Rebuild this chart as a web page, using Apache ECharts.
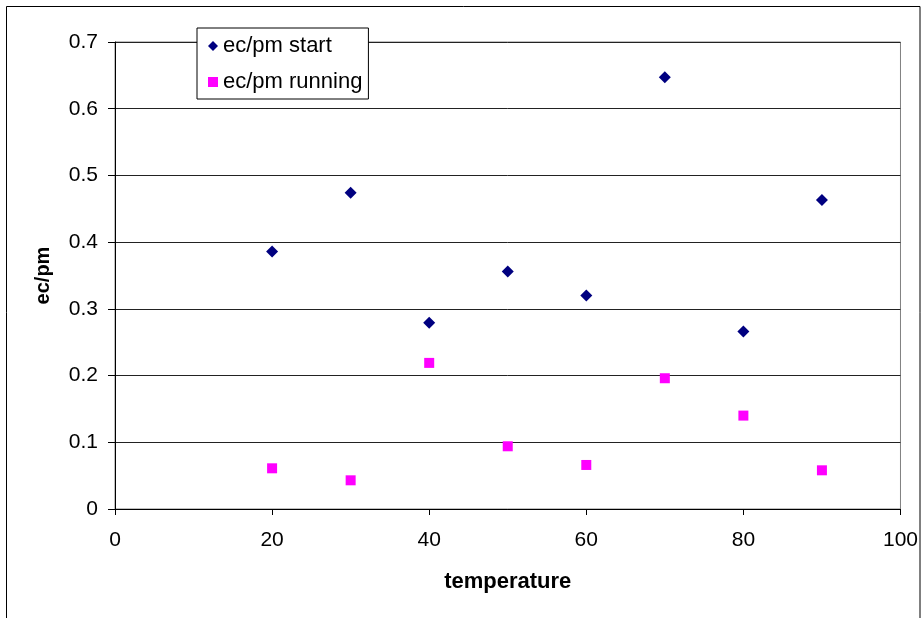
<!DOCTYPE html>
<html>
<head>
<meta charset="utf-8">
<script src="https://cdn.jsdelivr.net/npm/echarts@6/dist/echarts.min.js"></script>
<style>
  html, body { margin: 0; padding: 0; background: #fff; }
  #main { width: 921px; height: 618px; }
</style>
</head>
<body>
<div id="main"></div>
<script>
// temperature values on the x axis
const temperature = [20, 30, 40, 50, 60, 70, 80, 90];
// ec/pm at start and while running
const ecpmStart = [0.386, 0.474, 0.279, 0.356, 0.320, 0.647, 0.266, 0.463];
const ecpmRunning = [0.061, 0.043, 0.219, 0.094, 0.066, 0.196, 0.140, 0.058];

const font = 'Liberation Sans, Arial, sans-serif';

const chart = echarts.init(document.getElementById('main'), null, { renderer: 'canvas' });

const option = {
  backgroundColor: '#fff',
  animation: false,
  graphic: [{
    // outer chart frame
    type: 'rect',
    shape: { x: 6.5, y: 6.5, width: 913.5, height: 640 },
    style: { fill: 'none', stroke: '#000', lineWidth: 1 },
    z: -1
  }],
  grid: {
    left: 115, top: 42, right: 19, bottom: 109,
    show: true,
    borderColor: '#808080',
    borderWidth: 1,
    backgroundColor: '#fff'
  },
  legend: {
    orient: 'vertical',
    left: 197, top: 28,
    padding: [7, 6, 6, 11],
    itemGap: 14,
    itemWidth: 10, itemHeight: 10,
    itemTextGap: 6,
    backgroundColor: '#fff',
    borderColor: '#000',
    borderWidth: 1,
    textStyle: { fontFamily: font, fontSize: 22, color: '#000', lineHeight: 22 },
    data: [
      { name: 'ec/pm start', icon: 'diamond' },
      { name: 'ec/pm running', icon: 'rect' }
    ]
  },
  xAxis: {
    type: 'value',
    min: 0, max: 100, interval: 20,
    name: 'temperature',
    nameLocation: 'middle',
    nameGap: 62,
    nameTextStyle: { fontFamily: font, fontSize: 22, fontWeight: 'bold', color: '#000' },
    axisLine: { show: true, onZero: false, lineStyle: { color: '#000', width: 1 } },
    axisTick: { show: true, inside: false, length: 6, lineStyle: { color: '#000' } },
    axisLabel: { fontFamily: font, fontSize: 21, color: '#000', margin: 21 },
    splitLine: { show: false }
  },
  yAxis: {
    type: 'value',
    min: 0, max: 0.7, interval: 0.1,
    name: 'ec/pm',
    nameLocation: 'middle',
    nameGap: 62,
    nameTextStyle: { fontFamily: font, fontSize: 20, fontWeight: 'bold', color: '#000' },
    axisLine: { show: true, lineStyle: { color: '#000', width: 1 } },
    axisTick: { show: true, inside: false, length: 7, lineStyle: { color: '#000' } },
    axisLabel: {
      fontFamily: font, fontSize: 21, color: '#000', margin: 17,
      formatter: v => String(+v.toFixed(1))
    },
    splitLine: { show: true, lineStyle: { color: '#222', width: 1 } }
  },
  series: [
    {
      name: 'ec/pm start',
      type: 'scatter',
      symbol: 'diamond',
      symbolSize: 12,
      itemStyle: { color: '#000080', opacity: 1 },
      data: temperature.map((t, i) => [t, ecpmStart[i]])
    },
    {
      name: 'ec/pm running',
      type: 'scatter',
      symbol: 'rect',
      symbolSize: 10,
      itemStyle: { color: '#ff00ff', opacity: 1 },
      data: temperature.map((t, i) => [t, ecpmRunning[i]])
    }
  ]
};

chart.setOption(option);
</script>
</body>
</html>
